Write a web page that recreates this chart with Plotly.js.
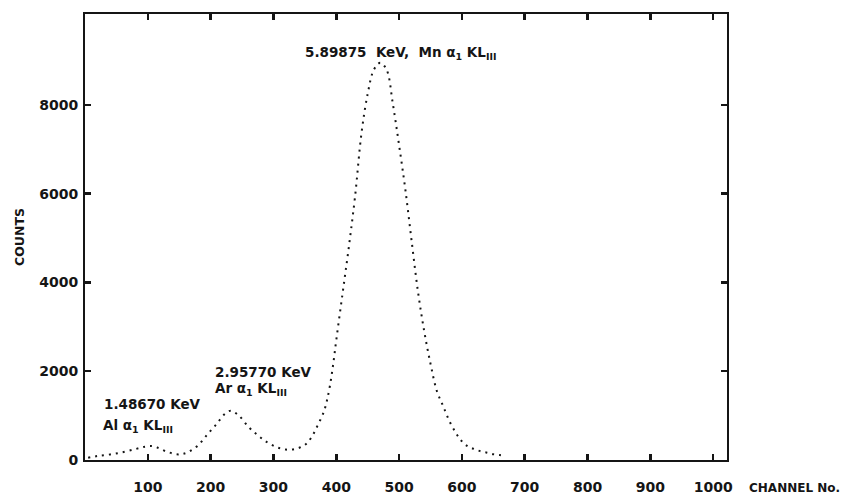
<!DOCTYPE html>
<html><head><meta charset="utf-8">
<script src="https://cdn.plot.ly/plotly-3.0.1.min.js"></script>
<style>html,body{margin:0;padding:0;background:#fff}</style>
</head><body><div id="chart" style="width:845px;height:495px"></div>
<script>
// Spectrum (channel number vs counts)
const channels = [5, 20, 40, 60, 80, 95, 105, 115, 130, 145, 155, 165, 180, 195, 210, 222, 232, 245, 260, 275, 290, 305, 320, 335, 350, 360, 370, 380, 385, 390, 395, 400, 410, 420, 430, 440, 450, 460, 470, 480, 490, 500, 510, 520, 530, 540, 550, 560, 570, 580, 590, 600, 610, 620, 630, 640, 650, 660, 670];
const counts   = [50, 90, 125, 175, 245, 300, 315, 280, 190, 130, 135, 185, 330, 580, 820, 1030, 1110, 1000, 750, 560, 400, 290, 235, 250, 340, 500, 770, 1080, 1330, 1680, 2150, 2700, 3750, 4800, 5950, 7350, 8250, 8800, 8950, 8800, 8030, 7094, 6090, 4930, 3800, 2900, 2170, 1560, 1220, 880, 620, 420, 300, 245, 195, 165, 130, 112, 90];

const xTickVals = [100, 200, 300, 400, 500, 600, 700, 800, 900, 1000];
const xTickText = ["100", "200", "300", "400", "500", "600", "700", "800", "900", "1000"];
const yTickVals = [0, 2000, 4000, 6000, 8000];
const yTickText = ["0", "2000", "4000", "6000", "8000"];

const labelText = [
  "5.89875  KeV,  Mn α<sub>1</sub> KL<sub>III</sub>",
  "2.95770 KeV",
  "Ar α<sub>1</sub> KL<sub>III</sub>",
  "1.48670 KeV",
  "Al α<sub>1</sub> KL<sub>III</sub>"
];
const labelX = [347, 204, 203, 27, 26];
const labelY = [9170, 1985, 1611, 1258, 764];

const xTitle = "CHANNEL No.";
const yTitle = "COUNTS";

const ink = "#151515";
const fontFam = "DejaVu Sans, Arial, sans-serif";

const trace = {
  x: channels, y: counts, type: "scatter", mode: "lines",
  line: {color: ink, width: 2, dash: "2px,5px", shape: "spline", smoothing: 1.0},
  hoverinfo: "skip"
};

const annotations = labelText.map((t, i) => ({
  text: t, x: labelX[i], y: labelY[i], xref: "x", yref: "y",
  xanchor: "left", yanchor: "middle", showarrow: false,
  font: {family: fontFam, size: 13.5, color: ink, weight: "bold"}
}));
annotations.push({
  text: xTitle, xref: "paper", yref: "paper", x: 1.031, y: -0.063,
  xanchor: "left", yanchor: "middle", showarrow: false,
  font: {family: fontFam, size: 12, color: ink, weight: "bold"}
});

const layout = {
  width: 845, height: 495,
  margin: {l: 85, r: 118, t: 14, b: 35},
  paper_bgcolor: "#ffffff", plot_bgcolor: "#ffffff",
  showlegend: false,
  xaxis: {
    range: [0, 1022], tickmode: "array", tickvals: xTickVals, ticktext: xTickText,
    ticks: "inside", ticklen: 6, tickwidth: 2.5, tickcolor: ink,
    showline: true, linewidth: 2, linecolor: ink, mirror: "ticks",
    showgrid: false, zeroline: false, ticklabelstandoff: 13,
    tickfont: {family: fontFam, size: 14, color: ink, weight: "bold"}
  },
  yaxis: {
    range: [0, 10050], tickmode: "array", tickvals: yTickVals, ticktext: yTickText,
    ticks: "inside", ticklen: 6, tickwidth: 2.5, tickcolor: ink,
    showline: true, linewidth: 2, linecolor: ink, mirror: "ticks",
    showgrid: false, zeroline: false, ticklabelstandoff: 2,
    title: {text: yTitle, standoff: 12, font: {family: fontFam, size: 12.5, color: ink, weight: "bold"}},
    tickfont: {family: fontFam, size: 14, color: ink, weight: "bold"}
  },
  annotations: annotations
};

Plotly.newPlot("chart", [trace], layout, {displayModeBar: false, staticPlot: true});
</script>
</body></html>
